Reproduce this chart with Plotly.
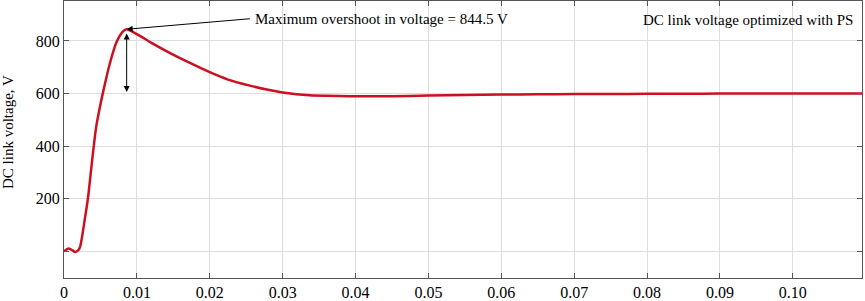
import plotly.graph_objects as go

# Time (s) and DC link voltage (V)
t = [0.0, 0.0006, 0.001, 0.0015, 0.0019, 0.0022, 0.0029, 0.0033, 0.0038, 0.0044,
     0.0049, 0.0054, 0.0063, 0.0072, 0.0081, 0.0086, 0.010, 0.012, 0.0145, 0.017,
     0.020, 0.0225, 0.0255, 0.028, 0.030, 0.0337, 0.036, 0.0392, 0.045, 0.050,
     0.055, 0.060, 0.065, 0.070, 0.075, 0.080, 0.085, 0.090, 0.095, 0.100, 0.105, 0.1095]
v = [0, 10, 6, -3, 2, 16, 130, 205, 330, 470,
     545, 610, 715, 795, 836, 844.5, 826, 793, 755, 720,
     681, 653, 630, 614, 604, 593, 591, 590, 590, 592,
     594, 596, 597, 598, 598, 599, 599, 600, 600, 600, 600, 600]

x_ticks = [0, 0.01, 0.02, 0.03, 0.04, 0.05, 0.06, 0.07, 0.08, 0.09, 0.10]
x_labels = ["0", "0.01", "0.02", "0.03", "0.04", "0.05", "0.06", "0.07", "0.08", "0.09", "0.10"]
y_ticks = [0, 200, 400, 600, 800]
y_labels = ["", "200", "400", "600", "800"]

peak_t = 0.0086
peak_v = 844.5
annot_text = "Maximum overshoot in voltage = 844.5 V"
title_text = "DC link voltage optimized with PS"
y_title = "DC link voltage, V"

serif = "Liberation Serif, Times New Roman, serif"

fig = go.Figure()
fig.add_trace(go.Scatter(x=t, y=v, mode="lines",
                         line=dict(color="#cc1020", width=2.5, shape="spline", smoothing=0.7),
                         showlegend=False, hoverinfo="skip"))

fig.add_annotation(x=peak_t, y=peak_v, xref="x", yref="y",
                   ax=0.0257, ay=885, axref="x", ayref="y",
                   showarrow=True, arrowhead=2, arrowsize=1.2, arrowwidth=1, arrowcolor="black",
                   text="")
fig.add_annotation(x=0.0259, y=885, xref="x", yref="y", xanchor="left", yanchor="middle",
                   text=annot_text, showarrow=False,
                   font=dict(family=serif, size=15, color="black"))
fig.add_annotation(x=peak_t, y=828, xref="x", yref="y",
                   ax=peak_t, ay=600, axref="x", ayref="y",
                   showarrow=True, arrowhead=2, arrowside="end+start", arrowsize=1.2,
                   arrowwidth=1, arrowcolor="black", text="")
fig.add_annotation(x=0.1085, y=878, xref="x", yref="y", xanchor="right", yanchor="middle",
                   text=title_text, showarrow=False,
                   font=dict(family=serif, size=15, color="black"))
# y-axis title placed as rotated text
fig.add_annotation(x=-0.0702, y=0.527, xref="paper", yref="paper",
                   xanchor="center", yanchor="middle", textangle=-90,
                   text=y_title, showarrow=False,
                   font=dict(family=serif, size=15, color="black"))

axis_common = dict(showline=True, linecolor="#555555", linewidth=1, mirror="ticks",
                   ticks="inside", ticklen=5, tickcolor="#555555",
                   showgrid=True, gridcolor="#dddddd", gridwidth=1, zeroline=False,
                   automargin=False,
                   tickfont=dict(family=serif, size=16, color="black"))

fig.update_xaxes(range=[0, 0.1095], tickvals=x_ticks, ticktext=x_labels, **axis_common)
fig.update_yaxes(range=[-102, 952], tickvals=y_ticks, ticktext=y_labels, **axis_common)

fig.update_layout(width=865, height=301, margin=dict(l=64, r=3, t=1, b=23),
                  plot_bgcolor="white", paper_bgcolor="white")

fig.write_html("out.html", config={"displayModeBar": False},
               post_script="document.body.style.margin='0';document.body.style.padding='0';")
